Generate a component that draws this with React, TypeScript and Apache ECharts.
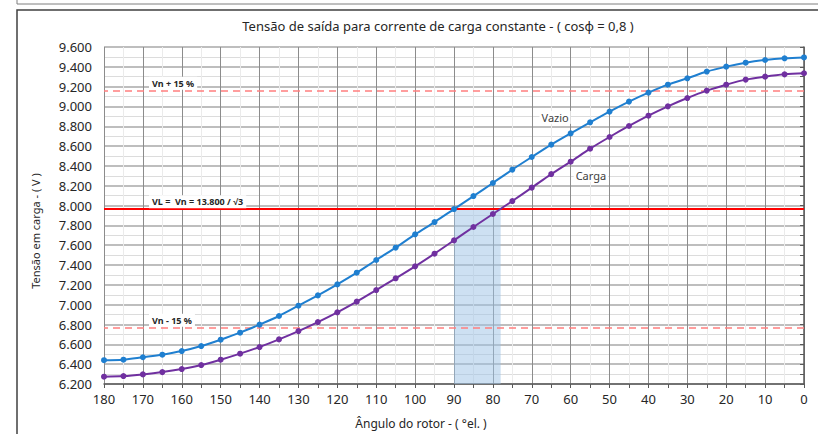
import React, { useEffect, useRef } from "react";
import * as echarts from "echarts";

const angles = [180, 175, 170, 165, 160, 155, 150, 145, 140, 135, 130, 125, 120, 115, 110, 105, 100, 95, 90, 85, 80, 75, 70, 65, 60, 55, 50, 45, 40, 35, 30, 25, 20, 15, 10, 5, 0];
const vazio = [6440, 6445, 6470, 6496, 6532, 6583, 6647, 6718, 6799, 6886, 6990, 7094, 7205, 7323, 7451, 7576, 7710, 7834, 7965, 8096, 8228, 8363, 8490, 8615, 8729, 8840, 8948, 9049, 9140, 9220, 9284, 9352, 9402, 9442, 9469, 9486, 9495];
const carga = [6274, 6280, 6297, 6320, 6351, 6391, 6445, 6506, 6573, 6650, 6734, 6825, 6923, 7031, 7148, 7266, 7387, 7515, 7649, 7784, 7915, 8046, 8181, 8318, 8443, 8574, 8692, 8803, 8907, 9001, 9085, 9160, 9220, 9271, 9301, 9324, 9335];

const VL = 13800 / Math.sqrt(3);
const refValues = [VL * 1.15, VL, VL * 0.85];
const refLabels = ["Vn + 15 %", "VL =  Vn = 13.800 / √3", "Vn - 15 %"];
const bandRange = [90, 78];
const seriesNames = ["Vazio", "Carga"];
const seriesLabelPos = [[64, 8890], [54.8, 8305]];

const titleText = "Tensão de saída para corrente de carga constante - ( cosφ = 0,8 )";
const xName = "Ângulo do rotor - ( °el. )";
const yName = "Tensão em carga - ( V )";

const FONT = "'Noto Sans', sans-serif";

function fmt(v: number) {
  const t = Math.floor(v / 1000);
  const r = Math.round(v % 1000);
  return t + "." + String(r).padStart(3, "0");
}

export default function App() {
  const ref = useRef<HTMLDivElement>(null);
  useEffect(() => {
    const chart = echarts.init(ref.current!, null, { renderer: "svg" });
    const blue = "#1f7fd0";
    const purple = "#7030a0";
    chart.setOption({
      animation: false,
      backgroundColor: "#ffffff",
      grid: { left: 104, right: 14, top: 47, bottom: 50, containLabel: false },
      xAxis: {
        type: "value",
        min: 0,
        max: 180,
        interval: 10,
        inverse: true,
        axisLine: { show: true, lineStyle: { color: "#595959", width: 1.5 } },
        axisTick: { show: true, length: 4, lineStyle: { color: "#595959" } },
        minorTick: { show: true, splitNumber: 2, length: 4, lineStyle: { color: "#595959" } },
        axisLabel: { color: "#262626", fontSize: 13, fontFamily: FONT, margin: 8 },
        splitLine: { show: true, lineStyle: { color: "#8c8c8c", width: 1 } },
        minorSplitLine: { show: true, lineStyle: { color: "#ebebeb", width: 1 } },
      },
      yAxis: {
        type: "value",
        min: 6200,
        max: 9600,
        interval: 200,
        axisLine: { show: true, lineStyle: { color: "#595959", width: 1.5 } },
        axisTick: { show: true, length: 4, lineStyle: { color: "#595959" } },
        minorTick: { show: true, splitNumber: 2, length: 4, lineStyle: { color: "#595959" } },
        axisLabel: { color: "#262626", fontSize: 13, fontFamily: FONT, margin: 12, formatter: (v: number) => fmt(v) },
        splitLine: { show: true, lineStyle: { color: "#a8a8a8", width: 1.5 } },
        minorSplitLine: { show: true, lineStyle: { color: "#dcdcdc", width: 1 } },
      },
      series: [
        {
          name: seriesNames[0],
          type: "line",
          data: angles.map((a, i) => [a, vazio[i]]),
          smooth: 0.3,
          symbol: "circle",
          symbolSize: 6,
          lineStyle: { color: blue, width: 2 },
          itemStyle: { color: blue },
          z: 5,
          markArea: {
            silent: true,
            itemStyle: { color: "rgba(155,194,230,0.5)" },
            data: [[{ xAxis: bandRange[0], yAxis: 6200 }, { xAxis: bandRange[1], yAxis: VL }]],
          },
          markLine: {
            silent: true,
            symbol: "none",
            label: { show: false },
            data: [
              { yAxis: refValues[0], lineStyle: { color: "#ff7f7f", width: 1.5, type: [7, 5] } },
              { yAxis: refValues[1], lineStyle: { color: "#ff0000", width: 2, type: "solid" } },
              { yAxis: refValues[2], lineStyle: { color: "#ff7f7f", width: 1.5, type: [7, 5] } },
            ],
          },
        },
        {
          name: seriesNames[1],
          type: "line",
          data: angles.map((a, i) => [a, carga[i]]),
          smooth: 0.3,
          symbol: "circle",
          symbolSize: 6,
          lineStyle: { color: purple, width: 2 },
          itemStyle: { color: purple },
          z: 5,
        },
      ],
    });

    const gridLeft = chart.convertToPixel({ gridIndex: 0 }, [180, 6200]) as number[];
    const graphics: any[] = [
      { type: "line", shape: { x1: 17, y1: 0, x2: 17, y2: 4 }, style: { stroke: "#7f7f7f", lineWidth: 1 } },
      { type: "line", shape: { x1: 17, y1: 4, x2: 818, y2: 4 }, style: { stroke: "#7f7f7f", lineWidth: 1 } },
      { type: "rect", shape: { x: 17, y: 10, width: 900, height: 500 }, style: { fill: "none", stroke: "#404040", lineWidth: 1.5 }, z: -1 },
      { type: "text", x: 438, y: 26, style: { text: titleText, fill: "#262626", font: `13px ${FONT}`, textAlign: "center", textVerticalAlign: "middle" } },
      { type: "text", x: 421, y: 423, style: { text: xName, fill: "#262626", font: `12px ${FONT}`, textAlign: "center", textVerticalAlign: "middle" } },
      { type: "text", x: 35, y: 231, rotation: Math.PI / 2, style: { text: yName, fill: "#262626", font: `11px ${FONT}`, textAlign: "center", textVerticalAlign: "middle" } },
    ];
    refValues.forEach((v, i) => {
      const p = chart.convertToPixel({ gridIndex: 0 }, [180, v]) as number[];
      graphics.push({
        type: "text",
        x: gridLeft[0] + 45,
        y: p[1] - 7,
        z: 10,
        style: {
          text: refLabels[i],
          fill: "#262626",
          font: `bold 9px ${FONT}`,
          textAlign: "left",
          textVerticalAlign: "middle",
          backgroundColor: "#ffffff",
          padding: [2, 3],
        },
      });
    });
    seriesNames.forEach((n, i) => {
      const p = chart.convertToPixel({ gridIndex: 0 }, seriesLabelPos[i]) as number[];
      graphics.push({
        type: "text",
        x: p[0],
        y: p[1],
        z: 10,
        style: {
          text: n,
          fill: "#404040",
          font: `11px ${FONT}`,
          textAlign: "center",
          textVerticalAlign: "middle",
          backgroundColor: "#ffffff",
          padding: [1, 2],
        },
      });
    });
    chart.setOption({ graphic: graphics });
    return () => chart.dispose();
  }, []);
  return (
    <div style={{ position: "absolute", left: 0, top: 0 }}>
      <div ref={ref} style={{ width: 818, height: 434 }} />
    </div>
  );
}
